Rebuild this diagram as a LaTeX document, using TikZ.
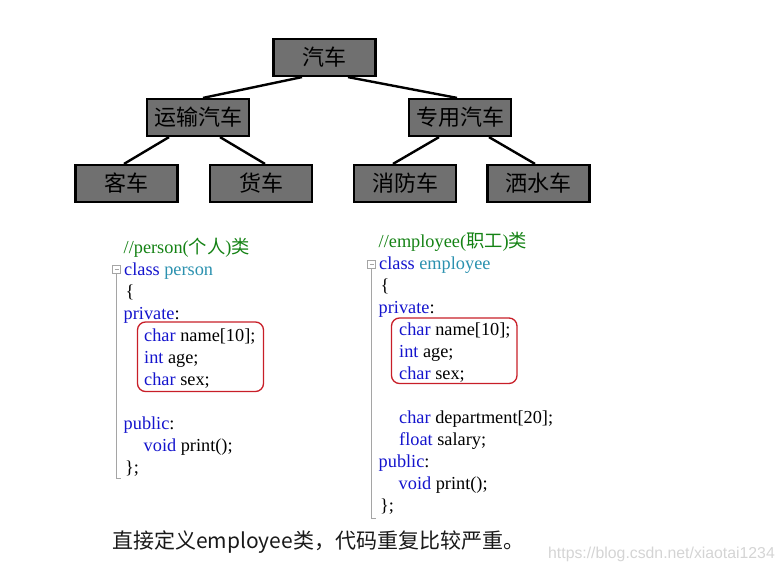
\documentclass[tikz,border=0pt]{standalone}
\usepackage{fontspec}
\setmainfont{Liberation Serif}
\newfontfamily\cjk{Noto Sans CJK SC}
\newfontfamily\wmfont{Liberation Sans}
\definecolor{boxgray}{RGB}{112,112,112}
\definecolor{kwblue}{RGB}{20,20,205}
\definecolor{clteal}{RGB}{43,145,175}
\definecolor{cmgreen}{RGB}{20,130,20}
\definecolor{redline}{RGB}{200,30,40}
\definecolor{foldgray}{RGB}{165,165,165}
\definecolor{wmgray}{RGB}{212,212,212}
\newcommand{\kw}[1]{\textcolor{kwblue}{#1}}
\newcommand{\cl}[1]{\textcolor{clteal}{#1}}
\newcommand{\cz}[1]{{\cjk #1}}
\tikzset{
  carbox/.style={draw=black, line width=2.2pt, fill=boxgray, minimum width=102pt,
    minimum height=37pt, inner sep=0pt, font=\cjk\fontsize{22}{22}\selectfont, text=black},
  treeline/.style={line width=2.4pt, black},
  codeline/.style={anchor=base west, inner sep=0pt, font=\fontsize{18.3}{22}\selectfont, text=black},
  redbox/.style={draw=redline, line width=1.3pt, rounded corners=8pt},
  foldline/.style={draw=foldgray, line width=1pt},
  foldbox/.style={draw=foldgray, line width=0.8pt, fill=white}
}
\begin{document}
\begin{tikzpicture}[x=1pt, y=-1pt]
\useasboundingbox (0,0) rectangle (784,570);
% tree
\node[carbox] (car) at (324.5,57.5) {汽车};
\node[carbox] (trans) at (198,117.5) {运输汽车};
\node[carbox] (spec) at (460,117.5) {专用汽车};
\node[carbox] (bus) at (126.5,183.5) {客车};
\node[carbox] (truck) at (261,183.5) {货车};
\node[carbox] (fire) at (405,183.5) {消防车};
\node[carbox] (water) at (538.5,183.5) {洒水车};
\draw[treeline] ([xshift=-22.5pt]car.south) -- ([xshift=5pt]trans.north);
\draw[treeline] ([xshift=23.5pt]car.south) -- ([xshift=-3pt]spec.north);
\draw[treeline] ([xshift=-29pt]trans.south) -- ([xshift=-2.5pt]bus.north);
\draw[treeline] ([xshift=22pt]trans.south) -- ([xshift=4pt]truck.north);
\draw[treeline] ([xshift=-21pt]spec.south) -- ([xshift=-12pt]fire.north);
\draw[treeline] ([xshift=29pt]spec.south) -- ([xshift=-3.5pt]water.north);
% person code
\draw[foldline] (116.5,273.5) -- (116.5,478) -- (121,478);
\draw[foldbox] (112.5,265.5) rectangle (120.5,273.5);
\draw[foldline, line width=0.8pt] (114.5,269.5) -- (118.5,269.5);
\draw[redbox] (137.5,322) rectangle (263.5,391.5);
\node[codeline, text=cmgreen] (p1) at (123.5,253) {//person(\cz{个人})\cz{类}};
\node[codeline] (p2) at (124,275) {\kw{class} \cl{person}};
\node[codeline] (p3) at (125.5,297) {\{};
\node[codeline] (p4) at (123.5,319) {\kw{private}:};
\node[codeline] (p5) at (144,341) {\kw{char} name[10];};
\node[codeline] (p6) at (144,363) {\kw{int} age;};
\node[codeline] (p7) at (144,385) {\kw{char} sex;};
\node[codeline] (p8) at (123.5,429) {\kw{public}:};
\node[codeline] (p9) at (143.5,451) {\kw{void} print();};
\node[codeline] (p10) at (125,473) {\};};
% employee code
\draw[foldline] (371.5,268) -- (371.5,518) -- (376,518);
\draw[foldbox] (367.5,260) rectangle (375.5,268);
\draw[foldline, line width=0.8pt] (369.5,264) -- (373.5,264);
\draw[redbox] (391.5,318) rectangle (517,383.5);
\node[codeline, text=cmgreen] (e1) at (378.5,247) {//employee(\cz{职工})\cz{类}};
\node[codeline] (e2) at (379,269) {\kw{class} \cl{employee}};
\node[codeline] (e3) at (380.5,291) {\{};
\node[codeline] (e4) at (378.5,313) {\kw{private}:};
\node[codeline] (e5) at (399,335) {\kw{char} name[10];};
\node[codeline] (e6) at (399,357) {\kw{int} age;};
\node[codeline] (e7) at (399,379) {\kw{char} sex;};
\node[codeline] (e8) at (399,423) {\kw{char} department[20];};
\node[codeline] (e9) at (399,445) {\kw{float} salary;};
\node[codeline] (e10) at (378.5,467) {\kw{public}:};
\node[codeline] (e11) at (398.5,489) {\kw{void} print();};
\node[codeline] (e12) at (380,511) {\};};
% caption
\node[anchor=base west, inner sep=0pt, font=\cjk\fontsize{21}{21}\selectfont, text={rgb,255:red,25;green,25;blue,25}] (cap) at (112,548) {直接定义employee类，代码重复比较严重。};
\node[anchor=base west, inner sep=0pt, font=\wmfont\fontsize{15.8}{16}\selectfont, text=wmgray] (wm) at (548,558) {https://blog.csdn.net/xiaotai1234};
\end{tikzpicture}
\end{document}
